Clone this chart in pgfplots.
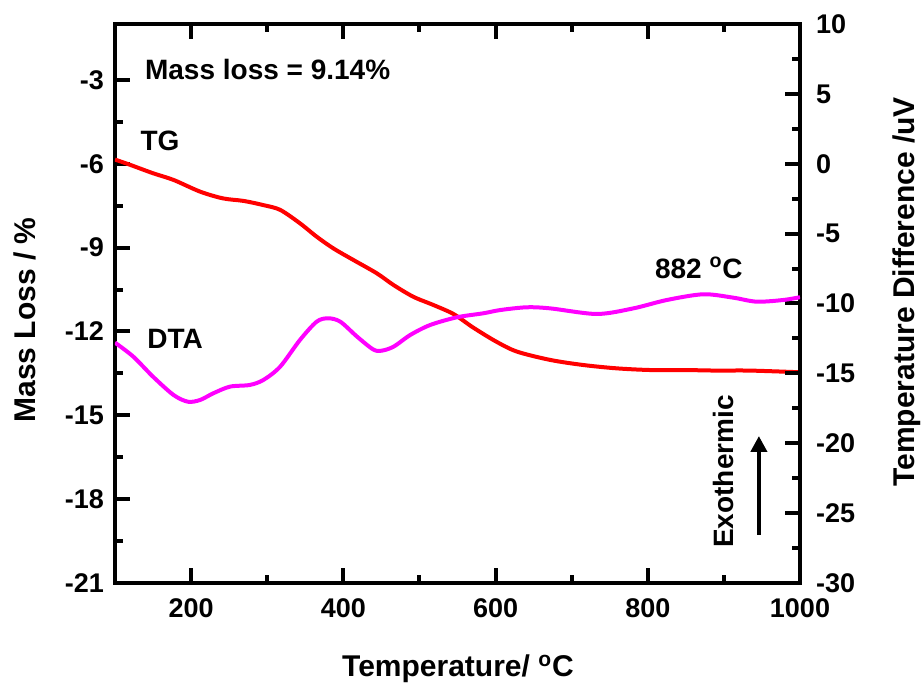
\documentclass[border=0pt]{standalone}
\usepackage{fontspec}
\setmainfont{Liberation Sans}
\usepackage{pgfplots}
\pgfplotsset{compat=1.18}
\usepackage{pgfplotstable}
\usetikzlibrary{arrows.meta}
\definecolor{tgred}{RGB}{255,0,0}
\definecolor{dtamag}{RGB}{255,0,255}

\pgfplotstableread{
T v
100 -5.85
120 -6.04
150 -6.34
177 -6.58
212 -7.00
242 -7.24
269 -7.33
295 -7.48
317 -7.65
343 -8.13
365 -8.61
387 -9.03
413 -9.44
444 -9.92
466 -10.34
492 -10.76
518 -11.05
545 -11.38
570 -11.85
600 -12.35
628 -12.72
672 -13.02
715 -13.20
759 -13.32
803 -13.38
847 -13.38
890 -13.40
934 -13.40
1000 -13.46
}\tgdata

\pgfplotstableread{
T v
100 -12.80
124 -13.80
150 -15.24
177 -16.55
196 -17.03
212 -16.90
229 -16.43
251 -15.95
277 -15.83
295 -15.47
317 -14.52
343 -12.61
365 -11.30
380 -11.06
396 -11.30
418 -12.37
439 -13.28
450 -13.38
466 -13.09
488 -12.25
514 -11.54
549 -10.99
584 -10.70
606 -10.47
641 -10.27
672 -10.35
733 -10.75
781 -10.35
825 -9.75
873 -9.34
912 -9.58
943 -9.87
978 -9.75
1000 -9.55
}\dtadata

\newcommand{\lbl}{\fontsize{15}{18}\selectfont\bfseries}
\newcommand{\ann}{\fontsize{14}{17}\selectfont\bfseries}
\newcommand{\tck}{\fontsize{13.5}{16}\selectfont\bfseries}

\pgfplotsset{
  common/.style={
    scale only axis, width=342.5pt, height=279.5pt,
    xmin=100, xmax=1000,
    axis line style={line width=2pt, black},
    tick style={line width=2pt, black},
    major tick length=7.5pt, minor tick length=4pt,
    tick align=inside,
    /pgf/number format/assume math mode=true,
    /pgf/number format/1000 sep={},
    tick label style={font=\tck},
    label style={font=\lbl},
  }
}

\begin{document}
\begin{tikzpicture}
\path[use as bounding box] (-57.5pt,-51pt) rectangle (403.5pt,291.5pt);
\begin{axis}[common,
  ymin=-21, ymax=-1,
  xtick={200,400,600,800,1000}, minor x tick num=1,
  ytick={-21,-18,-15,-12,-9,-6,-3}, minor y tick num=1,
  xtick pos=both, xticklabel pos=lower,
  ytick pos=left,
  xticklabel style={yshift=-4.5pt},
  yticklabel style={xshift=-2pt},
  xlabel={Temperature/ \textsuperscript{o}C},
  ylabel={Mass Loss / \%},
  xlabel style={at={(axis description cs:0.5007,-0.168)}, anchor=base},
  ylabel style={at={(axis description cs:-0.1314,0.4705)}, anchor=center},
]
\addplot[tgred, line width=2pt, smooth, tension=0.5] table[x=T, y=v] {\tgdata};
\node[font=\ann, anchor=base west, inner sep=0pt] at (axis cs:139,-3.0) {Mass loss = 9.14\%};
\node[font=\ann, anchor=base west, inner sep=0pt] at (axis cs:133,-5.51) {TG};
\node[font=\ann, anchor=base west, inner sep=0pt] at (axis cs:142,-12.6) {DTA};
\node[font=\ann, anchor=base west, inner sep=0pt] at (axis cs:809,-10.09) {882 \textsuperscript{o}C};
\node[font=\ann, anchor=base, rotate=90, inner sep=0pt] at (axis cs:912,-17.01) {Exothermic};
\draw[line width=2pt, -{Triangle[length=8pt, width=8pt]}] (axis cs:946,-19.28) -- (axis cs:946,-15.74);
\end{axis}
\begin{axis}[common,
  ymin=-30, ymax=10,
  axis x line=none,
  axis y line*=right,
  ytick={-30,-25,-20,-15,-10,-5,0,5,10}, minor y tick num=1,
  tick align=inside,
  yticklabel style={xshift=4.5pt},
  ylabel={Temperature Difference /uV},
  ylabel style={at={(axis description cs:1.156,0.5206)}, anchor=center, rotate=0},
]
\addplot[dtamag, line width=2pt, smooth, tension=0.5] table[x=T, y=v] {\dtadata};
\end{axis}
\end{tikzpicture}
\end{document}
